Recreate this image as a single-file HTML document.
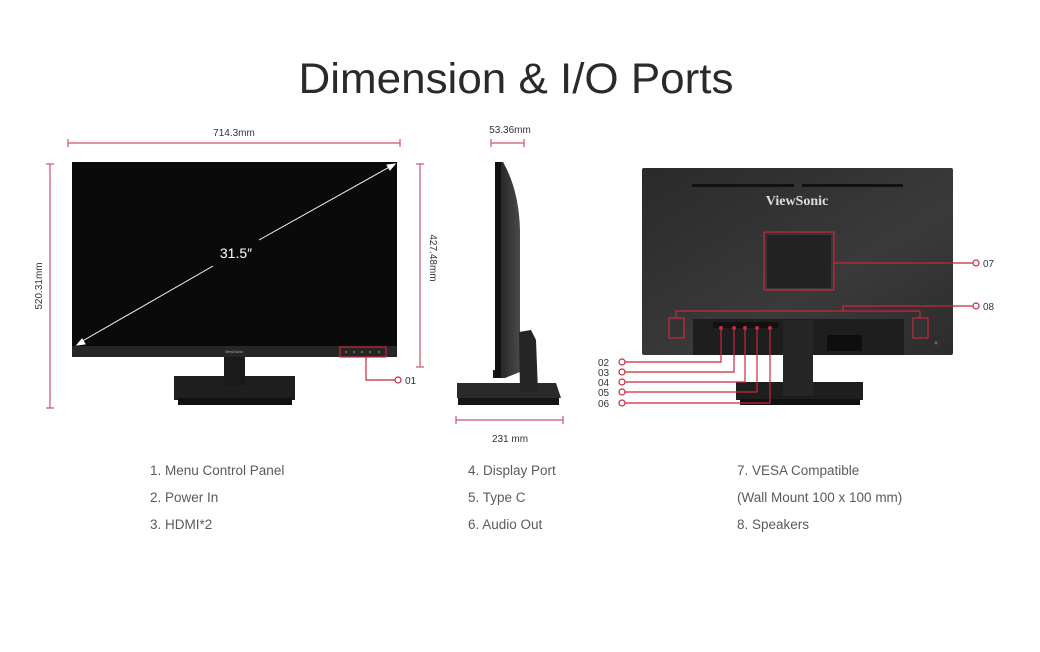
<!DOCTYPE html>
<html><head><meta charset="utf-8"><style>
body{margin:0;width:1040px;height:652px;background:#fff;overflow:hidden;font-family:"Liberation Sans",sans-serif}
svg{position:absolute;left:0;top:0}
</style></head><body>
<svg width="1040" height="652" viewBox="0 0 1040 652" font-family="Liberation Sans, sans-serif">
<defs>
<linearGradient id="bk" x1="0" y1="0" x2="1" y2="1"><stop offset="0" stop-color="#2a2a2a"/><stop offset=".6" stop-color="#3a3a3a"/><stop offset="1" stop-color="#2c2c2c"/></linearGradient>
<linearGradient id="sd" x1="0" y1="0" x2="1" y2="0"><stop offset="0" stop-color="#1a1a1a"/><stop offset="1" stop-color="#4a4a4a"/></linearGradient>
</defs>
<text x="516" y="93" font-size="43" fill="#2a2a2a" text-anchor="middle" textLength="435" lengthAdjust="spacingAndGlyphs">Dimension &amp; I/O Ports</text>

<!-- FRONT -->
<g stroke="#d0546a" stroke-width="1.2" fill="none">
<line x1="68" y1="143" x2="400" y2="143"/><line x1="68" y1="139" x2="68" y2="147"/><line x1="400" y1="139" x2="400" y2="147"/>
<line x1="50" y1="164" x2="50" y2="408"/><line x1="46" y1="164" x2="54" y2="164"/><line x1="46" y1="408" x2="54" y2="408"/>
<line x1="420" y1="164" x2="420" y2="367"/><line x1="416" y1="164" x2="424" y2="164"/><line x1="416" y1="367" x2="424" y2="367"/>
</g>
<text x="234" y="136" font-size="10" fill="#333" text-anchor="middle">714.3mm</text>
<text transform="translate(42,286) rotate(-90)" font-size="10" fill="#333" text-anchor="middle">520.31mm</text>
<text transform="translate(430,258) rotate(90)" font-size="10" fill="#333" text-anchor="middle">427.48mm</text>
<rect x="174" y="376" width="121" height="24" fill="#1e1e1e"/>
<rect x="178" y="398" width="114" height="7" fill="#111"/>
<rect x="224" y="356" width="21" height="30" fill="#1a1a1a"/>
<rect x="72" y="162" width="325" height="195" fill="#0a0a0a"/>
<rect x="72" y="346" width="325" height="11" fill="#262626"/>
<text x="234" y="353" font-size="4" fill="#aaa" text-anchor="middle">ViewSonic</text>
<g stroke="#fff" stroke-width="1" fill="#fff">
<line x1="79" y1="343" x2="213" y2="266"/><line x1="259" y1="240" x2="393" y2="165"/>
<path d="M77,345 l8,-1 l-3,-5z"/><path d="M395,164 l-8,1 l3,5z"/>
</g>
<text x="236" y="258" font-size="14" fill="#fff" text-anchor="middle">31.5″</text>
<g stroke="#c8283c" stroke-width="1.2" fill="none">
<rect x="340" y="347" width="46" height="10"/>
<polyline points="366,357 366,380 395,380"/><circle cx="398" cy="380" r="3" fill="#fff"/>
</g>
<g fill="#666"><circle cx="346" cy="352" r="1.2"/><circle cx="354" cy="352" r="1.2"/><circle cx="362" cy="352" r="1.2"/><circle cx="370" cy="352" r="1.2"/><circle cx="379" cy="352" r="1.2"/></g>
<text x="405" y="384" font-size="10" fill="#333">01</text>

<!-- SIDE -->
<g stroke="#d0546a" stroke-width="1.2" fill="none">
<line x1="491" y1="143" x2="524" y2="143"/><line x1="491" y1="139" x2="491" y2="147"/><line x1="524" y1="139" x2="524" y2="147"/>
<line x1="456" y1="420" x2="563" y2="420"/><line x1="456" y1="416" x2="456" y2="424"/><line x1="563" y1="416" x2="563" y2="424"/>
</g>
<text x="510" y="133" font-size="10" fill="#333" text-anchor="middle">53.36mm</text>
<text x="510" y="442" font-size="10" fill="#333" text-anchor="middle">231 mm</text>
<path d="M495,162 L503,162 Q519,190 520,230 L520,372 L505,378 L493,378 L493,370 L495,370 Z" fill="url(#sd)"/>
<rect x="495" y="162" width="6" height="216" fill="#111"/>
<path d="M457,383 L556,383 L561,398 L457,398 Z" fill="#2a2a2a"/>
<rect x="458" y="398" width="101" height="7" fill="#151515"/>
<path d="M519,332 L531,330 L536,340 L538,392 L520,392 Z" fill="#252525"/>

<!-- BACK -->
<rect x="642" y="168" width="311" height="187" rx="2" fill="url(#bk)"/>
<rect x="692" y="184" width="102" height="3" fill="#111"/><rect x="802" y="184" width="101" height="3" fill="#111"/>
<text x="797" y="205" font-size="14" font-weight="bold" fill="#ddd" text-anchor="middle" font-family="Liberation Serif, serif">ViewSonic</text>
<rect x="767" y="235" width="64" height="53" fill="#222"/>
<rect x="693" y="319" width="211" height="36" fill="#1e1e1e"/>
<rect x="713" y="322" width="65" height="6" fill="#111"/>
<rect x="827" y="335" width="35" height="16" fill="#0e0e0e"/>
<rect x="671" y="320" width="12" height="17" rx="4" fill="#333"/><rect x="915" y="320" width="12" height="17" rx="4" fill="#333"/>
<rect x="736" y="382" width="127" height="18" fill="#1e1e1e"/><rect x="740" y="399" width="120" height="6" fill="#111"/>
<rect x="783" y="320" width="30" height="76" fill="#262626"/>
<circle cx="936" cy="343" r="1.5" fill="#666"/>
<g stroke="#c8283c" stroke-width="1.2" fill="none">
<rect x="764" y="232" width="70" height="58"/>
<line x1="834" y1="263" x2="973" y2="263"/><circle cx="976" cy="263" r="3" fill="#fff"/>
<rect x="669" y="318" width="15" height="20"/><rect x="913" y="318" width="15" height="20"/>
<polyline points="676,318 676,311 843,311 843,306 973,306"/><line x1="843" y1="311" x2="920" y2="311"/><line x1="920" y1="311" x2="920" y2="318"/>
<circle cx="976" cy="306" r="3" fill="#fff"/>
<polyline points="721,328 721,362 625,362"/>
<polyline points="734,328 734,372 625,372"/>
<polyline points="745,328 745,382 625,382"/>
<polyline points="757,328 757,392 625,392"/>
<polyline points="770,328 770,403 625,403"/>
<circle cx="622" cy="362" r="3" fill="#fff"/><circle cx="622" cy="372" r="3" fill="#fff"/><circle cx="622" cy="382" r="3" fill="#fff"/><circle cx="622" cy="392" r="3" fill="#fff"/><circle cx="622" cy="403" r="3" fill="#fff"/>
</g>
<g fill="#c8283c"><circle cx="721" cy="328" r="2"/><circle cx="734" cy="328" r="2"/><circle cx="745" cy="328" r="2"/><circle cx="757" cy="328" r="2"/><circle cx="770" cy="328" r="2"/></g>
<g font-size="10" fill="#333">
<text x="983" y="267">07</text><text x="983" y="310">08</text>
<text x="598" y="366">02</text><text x="598" y="376">03</text><text x="598" y="386">04</text><text x="598" y="396">05</text><text x="598" y="407">06</text>
</g>

<g font-size="13.5" fill="#5a5a5a">
<text x="150" y="475">1. Menu Control Panel</text><text x="150" y="502">2. Power In</text><text x="150" y="529">3. HDMI*2</text>
<text x="468" y="475">4. Display Port</text><text x="468" y="502">5. Type C</text><text x="468" y="529">6. Audio Out</text>
<text x="737" y="475">7. VESA Compatible</text><text x="737" y="502">(Wall Mount 100 x 100 mm)</text><text x="737" y="529">8. Speakers</text>
</g>
</svg>
</body></html>
